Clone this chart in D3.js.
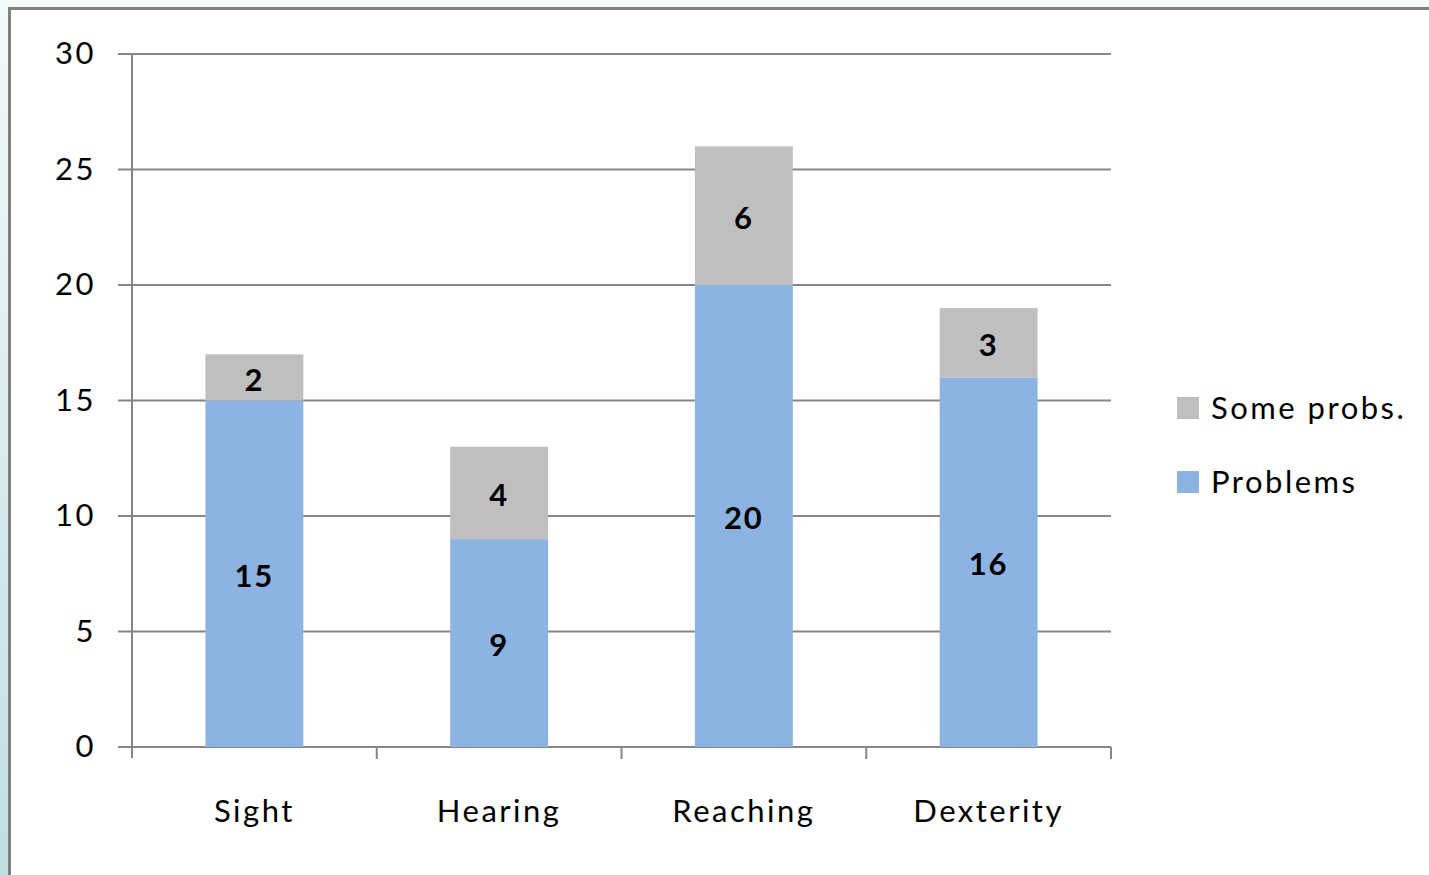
<!DOCTYPE html>
<html lang="en">
<head>
  <meta charset="utf-8" />
  <title>Problems by category</title>
  <script src="https://d3js.org/d3.v7.min.js"></script>
  <style>
    html, body { margin: 0; padding: 0; background: #ffffff; }
    svg { display: block; }
    .lbl { font-family: Lato, 'Open Sans', sans-serif; font-size: 31px; letter-spacing: 2.5px; }
  </style>
</head>
<body>
  <div id="graph"></div>
  <script>
    // chart data
    const categories = ["Sight", "Hearing", "Reaching", "Dexterity"];
    const problems = [15, 9, 20, 16];
    const someProbs = [2, 4, 6, 3];
    const yTicks = [0, 5, 10, 15, 20, 25, 30];
    const seriesNames = ["Some probs.", "Problems"];
    const seriesColors = { "Problems": "#8db3e2", "Some probs.": "#bfbfbf" };

    const W = 1429, H = 875;
    const margin = { top: 54, right: 318, bottom: 128, left: 132 };
    const width = W - margin.left - margin.right;
    const height = H - margin.top - margin.bottom;

    const root = d3.select("#graph").append("svg")
      .attr("width", W)
      .attr("height", H);

    // slide background strip + frame
    const grad = root.append("defs").append("linearGradient")
      .attr("id", "strip").attr("x1", 0).attr("y1", 0).attr("x2", 0).attr("y2", 1);
    grad.append("stop").attr("offset", "0%").attr("stop-color", "#f4f9fa");
    grad.append("stop").attr("offset", "100%").attr("stop-color", "#bfdfe2");
    root.append("rect").attr("width", W).attr("height", H).attr("fill", "url(#strip)");
    root.append("rect").attr("x", 8).attr("y", 7).attr("width", W).attr("height", H)
      .attr("fill", "#ffffff");
    root.append("path")
      .attr("d", `M${9.5},${H} V${8.5} H${W}`)
      .attr("fill", "none").attr("stroke", "#808080").attr("stroke-width", 3);

    const svg = root.append("g")
      .attr("transform", `translate(${margin.left}, ${margin.top})`);

    const x = d3.scaleBand().domain(categories).range([0, width]).paddingInner(0.6).paddingOuter(0.3);
    const y = d3.scaleLinear().domain([0, 30]).range([height, 0]);

    // gridlines
    svg.append("g")
      .selectAll("line")
      .data(yTicks)
      .join("line")
      .attr("x1", -14).attr("x2", width)
      .attr("y1", d => y(d)).attr("y2", d => y(d))
      .attr("stroke", "#868686").attr("stroke-width", 2);

    // stacked data
    const rows = categories.map((c, i) => ({ cat: c, "Problems": problems[i], "Some probs.": someProbs[i] }));
    const stack = d3.stack().keys(["Problems", "Some probs."])(rows);

    svg.append("g")
      .selectAll("g")
      .data(stack)
      .join("g")
      .attr("fill", d => seriesColors[d.key])
      .selectAll("rect")
      .data(d => d)
      .join("rect")
      .attr("x", d => x(d.data.cat))
      .attr("y", d => y(d[1]))
      .attr("width", x.bandwidth())
      .attr("height", d => y(d[0]) - y(d[1]));

    // value labels
    svg.append("g")
      .selectAll("g")
      .data(stack)
      .join("g")
      .selectAll("text")
      .data(d => d.map(v => ({ v: v, key: d.key })))
      .join("text")
      .attr("class", "lbl")
      .attr("x", d => x(d.v.data.cat) + x.bandwidth() / 2)
      .attr("y", d => (y(d.v[0]) + y(d.v[1])) / 2 + 2)
      .attr("dy", "0.36em")
      .attr("text-anchor", "middle")
      .style("font-weight", "bold")
      .style("letter-spacing", "2px")
      .attr("fill", "#000")
      .text(d => d.v.data[d.key]);

    // y axis
    const yAxis = svg.append("g")
      .call(d3.axisLeft(y).tickValues(yTicks).tickSize(14).tickPadding(22));
    yAxis.select(".domain").attr("stroke", "#868686").attr("stroke-width", 2)
      .attr("d", `M0,${height + 11}V0`);
    yAxis.selectAll(".tick line").remove();
    yAxis.selectAll("text")
      .attr("class", "lbl")
      .attr("fill", "#000");

    // x axis
    const xAxis = svg.append("g")
      .attr("transform", `translate(0, ${height})`)
      .call(d3.axisBottom(x).tickSize(0).tickPadding(53));
    xAxis.select(".domain").remove();
    xAxis.selectAll("text")
      .attr("class", "lbl")
      .attr("fill", "#000");

    // category separators
    const step = width / categories.length;
    svg.append("g")
      .selectAll("line")
      .data(d3.range(1, categories.length + 1))
      .join("line")
      .attr("x1", d => d * step).attr("x2", d => d * step)
      .attr("y1", height).attr("y2", height + 12)
      .attr("stroke", "#868686").attr("stroke-width", 2);

    // legend
    const legend = root.append("g").attr("transform", "translate(1177, 397)");
    legend.selectAll("g")
      .data(seriesNames)
      .join("g")
      .attr("transform", (d, i) => `translate(0, ${i * 74})`)
      .each(function (d) {
        const g = d3.select(this);
        g.append("rect").attr("width", 22).attr("height", 22).attr("fill", seriesColors[d]);
        g.append("text")
          .attr("class", "lbl")
          .attr("x", 34).attr("y", 11).attr("dy", "0.36em")
          .attr("fill", "#000")
          .text(d);
      });
  </script>
</body>
</html>
